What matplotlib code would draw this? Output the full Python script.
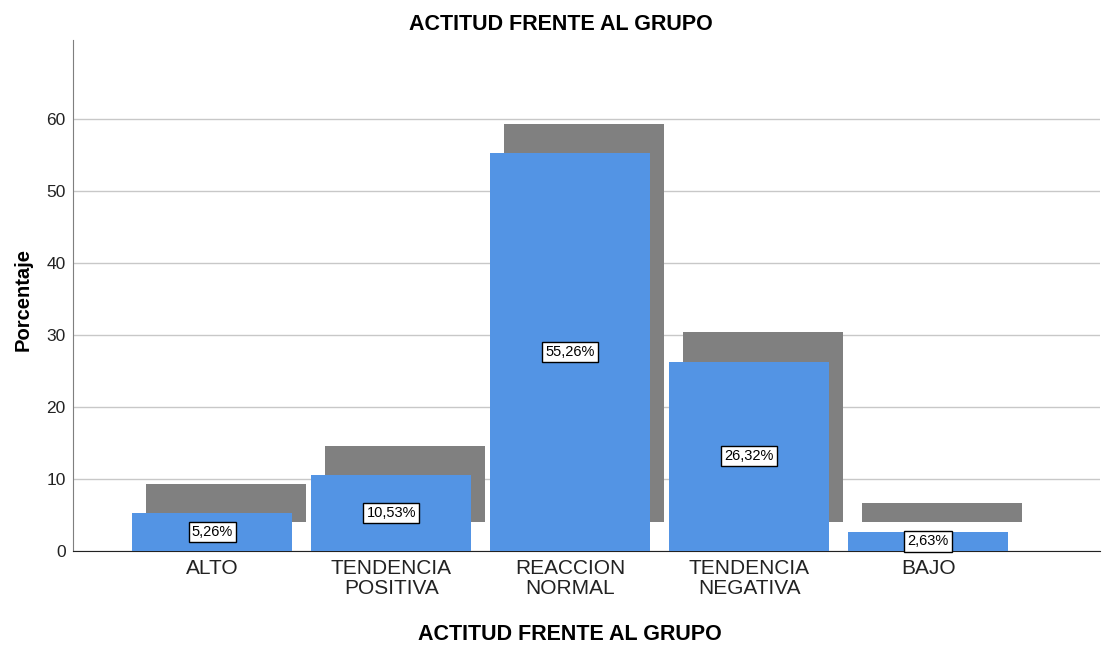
import matplotlib
matplotlib.use('Agg')
import matplotlib.pyplot as plt
import numpy as np

plt.rcParams['font.family'] = ['Liberation Sans', 'DejaVu Sans']

categorias = ['ALTO', 'TENDENCIA\nPOSITIVA', 'REACCION\nNORMAL', 'TENDENCIA\nNEGATIVA', 'BAJO']
porcentajes = [5.26, 10.53, 55.26, 26.32, 2.63]
etiquetas = ['5,26%', '10,53%', '55,26%', '26,32%', '2,63%']

fig = plt.figure(figsize=(11.2, 6.48), dpi=100)
ax = fig.add_axes([0.065, 0.150, 0.917, 0.788])

x = np.arange(len(categorias))
ancho = 0.894
dx = 0.078   # desplazamiento de la sombra (unidades de x)
dy = 4.05    # desplazamiento de la sombra (unidades de y)

# sombra gris
ax.bar(x + dx, porcentajes, width=ancho, bottom=dy, color='#808080', zorder=2)
# barras
ax.bar(x, porcentajes, width=ancho, color='#5394E4', zorder=3)

for xi, v, t in zip(x, porcentajes, etiquetas):
    ax.text(xi, v / 2, t, ha='center', va='center', fontsize=10.5, zorder=5,
            bbox=dict(boxstyle='square,pad=0.22', facecolor='white', edgecolor='black', linewidth=1))

ax.set_xlim(-0.78, 4.96)
ax.set_ylim(0, 71)
ax.set_yticks([0, 10, 20, 30, 40, 50, 60])
ax.set_xticks(x)
ax.set_xticklabels(categorias, fontsize=15, linespacing=1.05, color='#222222')
ax.tick_params(axis='x', length=0, pad=6)
ax.tick_params(axis='y', length=0, labelsize=12.5, pad=5, colors='#222222')

ax.yaxis.grid(True, color='#c8c8c8', linewidth=1)
ax.set_axisbelow(True)
for s in ['top', 'right']:
    ax.spines[s].set_visible(False)
ax.spines['left'].set_color('#7f7f7f')
ax.spines['bottom'].set_color('#222222')

fig.text(23 / 1120, 0.538, 'Porcentaje', rotation=90, ha='center', va='center',
         fontsize=14.5, fontweight='bold')
fig.text(570 / 1120, 1 - 635 / 648, 'ACTITUD FRENTE AL GRUPO', ha='center', va='center',
         fontsize=15.5, fontweight='bold')
fig.text(561 / 1120, 1 - 24 / 648, 'ACTITUD FRENTE AL GRUPO', ha='center', va='center',
         fontsize=15.5, fontweight='bold')

fig.savefig('out.png', dpi=100)
